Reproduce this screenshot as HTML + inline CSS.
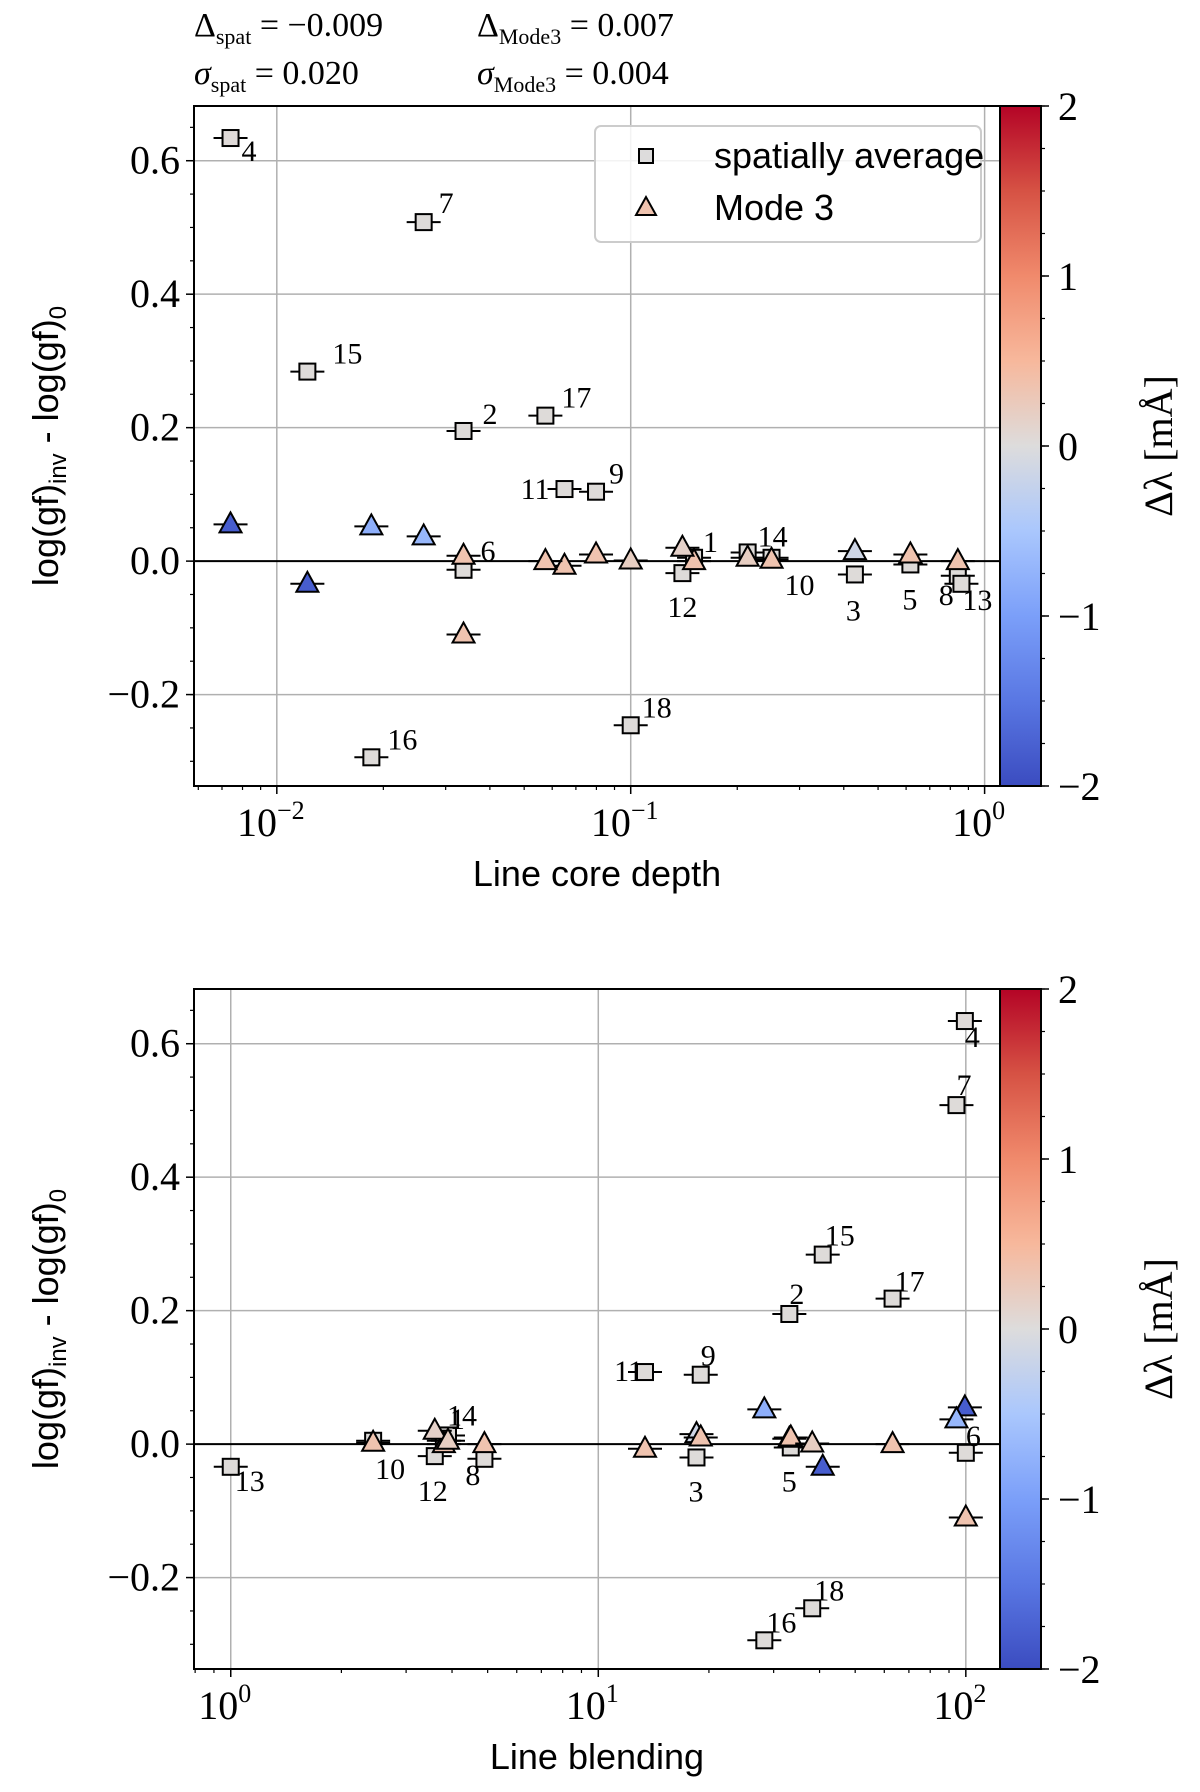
<!DOCTYPE html>
<html><head><meta charset="utf-8">
<style>
html,body{margin:0;padding:0;background:#fff;}
svg{display:block;}
.tk{font-family:"Liberation Serif",serif;font-size:40px;fill:#000;}
.st{font-family:"Liberation Serif",serif;font-size:34px;fill:#000;}
.lb{font-family:"Liberation Serif",serif;font-size:30px;fill:#000;}
.ax{font-family:"Liberation Sans",sans-serif;font-size:36px;fill:#000;}
</style></head>
<body>
<svg id="fig" width="1200" height="1792" viewBox="0 0 1200 1792" xmlns="http://www.w3.org/2000/svg">
<defs>
<linearGradient id="cmap" x1="0" y1="1" x2="0" y2="0">
<stop offset="0" stop-color="#3b4cc0"/><stop offset="0.125" stop-color="#5977e3"/>
<stop offset="0.25" stop-color="#7b9ff9"/><stop offset="0.375" stop-color="#aac7fd"/>
<stop offset="0.5" stop-color="#dddcdc"/><stop offset="0.625" stop-color="#f7b89c"/>
<stop offset="0.75" stop-color="#f08a6c"/><stop offset="0.875" stop-color="#d65244"/>
<stop offset="1" stop-color="#b40426"/>
</linearGradient>
<clipPath id="clipTop"><rect x="194" y="106" width="806" height="680"/></clipPath>
<clipPath id="clipBot"><rect x="194" y="989" width="806" height="680"/></clipPath>
</defs>
<text class="st" x="194" y="36">Δ<tspan font-size="22" dy="8">spat</tspan><tspan dy="-8"> = −0.009</tspan></text>
<text class="st" x="477" y="36">Δ<tspan font-size="22" dy="8">Mode3</tspan><tspan dy="-8"> = 0.007</tspan></text>
<text class="st" x="194" y="84"><tspan font-style="italic">σ</tspan><tspan font-size="22" dy="8">spat</tspan><tspan dy="-8"> = 0.020</tspan></text>
<text class="st" x="477" y="84"><tspan font-style="italic">σ</tspan><tspan font-size="22" dy="8">Mode3</tspan><tspan dy="-8"> = 0.004</tspan></text>
<g id="panels"></g>
</svg>
<script>
// ---- data ----
const lineIds   = [1,2,3,4,5,6,7,8,9,10,11,12,13,14,15,16,17,18];
const coreDepth = [0.151,0.0337,0.43,0.0074,0.617,0.0337,0.026,0.84,0.0798,0.25,0.065,0.14,0.86,0.214,0.0122,0.0185,0.0574,0.1];
const blending  = [3.8,33.1,18.5,99.4,33.4,100,94.3,4.9,19.0,2.44,13.4,3.59,1.0,3.9,40.8,28.3,63.2,38.2];
const spatVals  = [0.005,0.195,-0.020,0.634,-0.005,-0.013,0.508,-0.022,0.104,0.005,0.108,-0.018,-0.034,0.013,0.284,-0.294,0.218,-0.246];
const modeVals  = [0.000,0.008,0.015,0.055,0.010,-0.110,0.037,0.000,0.010,0.002,-0.007,0.020,null,0.005,-0.034,0.052,0.000,0.001];
const spatShift = [0.02,0.02,0.02,0.03,0.02,0.02,0.02,0.02,0.02,0.02,0.02,0.02,0.02,0.02,0.02,0.02,0.02,0.02];
const modeShift = [0.35,0.35,-0.15,-1.8,0.35,0.35,-0.7,0.35,0.35,0.35,0.35,0.15,0,0.2,-1.8,-0.8,0.35,0.2];
const yTicks    = [-0.2,0.0,0.2,0.4,0.6];
const yTickLabels = ["−0.2","0.0","0.2","0.4","0.6"];
const cbTicks   = [-2,-1,0,1,2];
const cbTickLabels = ["−2","−1","0","1","2"];

const offTop = {1:[9,-6],2:[19,-7],3:[-9,46],4:[11,23],5:[-8,45],6:[17,-9],7:[15,-9],8:[-19,29],9:[13,-8],10:[13,37],11:[-15,10,'end'],12:[-15,44],13:[1,26],14:[10,-6],15:[25,-8],16:[16,-8],17:[16,-8],18:[11,-8]};
const offBot = {1:[6,-12],2:[0,-10],3:[-8,44],4:[0,26],5:[-9,44],6:[0,-7],7:[0,-10],8:[-19,26],9:[0,-9],10:[2,38],11:[-2,9,'end'],12:[-17,45],13:[4,24],14:[-1,-10],15:[2,-9],16:[2,-8],17:[2,-7],18:[2,-8]};

const NS="http://www.w3.org/2000/svg";
const root=document.getElementById('panels');
function mk(tag,attrs,parent){const e=document.createElementNS(NS,tag);for(const k in attrs)e.setAttribute(k,attrs[k]);(parent||root).appendChild(e);return e;}
const stops=[[0,[59,76,192]],[.125,[89,119,227]],[.25,[123,159,249]],[.375,[170,199,253]],[.5,[221,220,220]],[.625,[247,184,156]],[.75,[240,138,108]],[.875,[214,82,68]],[1,[180,4,38]]];
function cmap(v){let t=Math.max(0,Math.min(1,(v+2)/4));for(let i=1;i<stops.length;i++){if(t<=stops[i][0]){const a=stops[i-1],b=stops[i];const f=(t-a[0])/(b[0]-a[0]);const c=a[1].map((x,j)=>Math.round(x+(b[1][j]-x)*f));return `rgb(${c})`;}}return 'rgb(180,4,38)';}

function panel(cfg){
  const L=194,R=1000,T=cfg.top,B=cfg.top+680;
  const yMin=-0.337,yMax=0.682;
  const ys=v=>B-(v-yMin)/(yMax-yMin)*(B-T);
  const xs=v=>L+(Math.log10(v)-cfg.lx0)/(cfg.lx1-cfg.lx0)*(R-L);
  const g=mk('g',{});
  
  
  for(let d=cfg.d0;d<=cfg.d1;d++){const x=xs(Math.pow(10,d));
    const gl=mk('line',{x1:x,x2:x,y1:T,y2:B,stroke:'#b0b0b0','stroke-width':1.5},g);
    }
  yTicks.forEach((v,i)=>{const y=ys(v);
    const gl=mk('line',{x1:L,x2:R,y1:y,y2:y,stroke:'#b0b0b0','stroke-width':1.5},g);
    
    mk('line',{x1:L-8,x2:L,y1:y,y2:y,stroke:'#000','stroke-width':1.5},g);
    const t=mk('text',{x:L-14,y:y+13,'text-anchor':'end',class:'tk'},g);t.textContent=yTickLabels[i];
    });
  for(let v=-0.3;v<=0.66;v+=0.05){const y=ys(v);mk('line',{x1:L-4,x2:L,y1:y,y2:y,stroke:'#000','stroke-width':1.2},g);}
  for(let d=cfg.d0-1;d<=cfg.d1;d++){for(let m=1;m<10;m++){const v=m*Math.pow(10,d);const lv=Math.log10(v);
    if(lv<cfg.lx0||lv>cfg.lx1)continue;const x=xs(v);
    mk('line',{x1:x,x2:x,y1:B,y2:B+(m==1?8:4),stroke:'#000','stroke-width':m==1?1.5:1.2},g);
    if(m==1){const t=mk('text',{x:x-6,y:B+50,'text-anchor':'middle',class:'tk'},g);
      t.textContent='10';const s=mk('tspan',{dy:-17,'font-size':26},t);s.textContent=(d<0?'−':'')+Math.abs(d);
      }}}
  const z=mk('line',{x1:L,x2:R,y1:ys(0),y2:ys(0),stroke:'#000','stroke-width':2},g);
  
  const mg=mk('g',{'clip-path':`url(#${cfg.clip})`},g);
  const xv=cfg.xvals;
  lineIds.forEach((id,i)=>{const x=xs(xv[i]);const y=ys(spatVals[i]);
    mk('line',{x1:x-17,x2:x+17,y1:y,y2:y,stroke:'#000','stroke-width':2},mg);
    const r=mk('rect',{x:x-8,y:y-8,width:16,height:16,fill:cmap(spatShift[i]),stroke:'#000','stroke-width':2},mg);
    });
  lineIds.forEach((id,i)=>{if(modeVals[i]===null)return;const x=xs(xv[i]);const y=ys(modeVals[i]);
    mk('line',{x1:x-17,x2:x+17,y1:y,y2:y,stroke:'#000','stroke-width':2},mg);
    const p=mk('polygon',{points:`${x},${y-12} ${x-11},${y+8} ${x+11},${y+8}`,fill:cmap(modeShift[i]),stroke:'#000','stroke-width':2},mg);
    });
  lineIds.forEach((id,i)=>{const o=cfg.off[id];const x=xs(xv[i]);const y=ys(spatVals[i]);
    const t=mk('text',{x:x+o[0],y:y+o[1],class:'lb','text-anchor':o[2]||'start'},mg);t.textContent=id;
    });
  const fr=mk('rect',{x:L,y:T,width:R-L,height:B-T,fill:'none',stroke:'#000','stroke-width':2},g);
  
  const yl=mk('text',{x:0,y:0,class:'ax','text-anchor':'middle',transform:`translate(58,${(T+B)/2}) rotate(-90)`},g);
  yl.innerHTML='log(gf)<tspan font-size="24" dy="8">inv</tspan><tspan dy="-8"> - log(gf)</tspan><tspan font-size="24" dy="8">0</tspan>';
  
  const xl=mk('text',{x:597,y:B+100,class:'ax','text-anchor':'middle'},g);xl.textContent=cfg.xlabel;
  
  const cb=mk('rect',{x:R,y:T,width:41,height:B-T,fill:'url(#cmap)',stroke:'#000','stroke-width':2},g);
  
  const cy=v=>B-(v+2)/4*(B-T);
  cbTicks.forEach((v,i)=>{const y=cy(v);mk('line',{x1:R+41,x2:R+49,y1:y,y2:y,stroke:'#000','stroke-width':1.5},g);
    const t=mk('text',{x:R+58,y:y+14,class:'tk'},g);t.textContent=cbTickLabels[i];
    });
  for(let v=-2;v<=2;v+=0.25){mk('line',{x1:R+41,x2:R+45,y1:cy(v),y2:cy(v),stroke:'#000','stroke-width':1.2},g);}
  const cl=mk('text',{x:0,y:0,class:'tk','text-anchor':'middle','font-size':42,transform:`translate(1172,${(T+B)/2}) rotate(-90)`},g);
  cl.textContent='Δλ [mÅ]';
  return g;
}
panel({name:'core-depth-panel',top:106,lx0:-2.234,lx1:0.0435,d0:-2,d1:0,xvals:coreDepth,off:offTop,clip:'clipTop',xlabel:'Line core depth'});
panel({name:'blending-panel',top:989,lx0:-0.1,lx1:2.093,d0:0,d1:2,xvals:blending,off:offBot,clip:'clipBot',xlabel:'Line blending'});
const lg=mk('g',{});


mk('rect',{x:595,y:126,width:386,height:116,rx:6,fill:'#fff','fill-opacity':0.85,stroke:'#ccc','stroke-width':2},lg);
mk('rect',{x:639,y:149,width:14,height:14,fill:'#dddcdc',stroke:'#000','stroke-width':2},lg);
mk('polygon',{points:'646,197 636,215 656,215',fill:cmap(0.35),stroke:'#000','stroke-width':2},lg);
const l1=mk('text',{x:714,y:168,class:'ax','font-size':32},lg);l1.textContent='spatially average';


const l2=mk('text',{x:714,y:220,class:'ax','font-size':32},lg);l2.textContent='Mode 3';


</script>
</body></html>
